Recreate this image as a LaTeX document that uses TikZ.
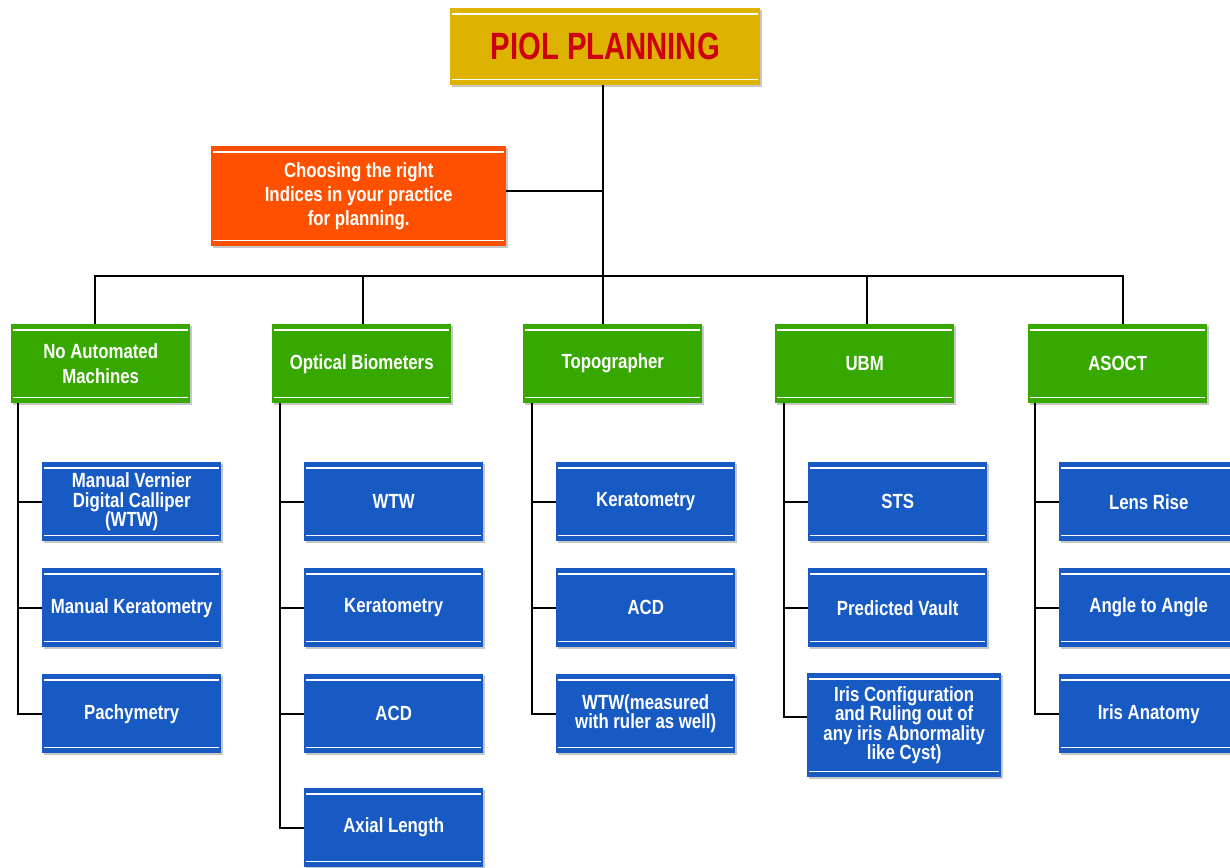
\documentclass[tikz,border=0pt]{standalone}
\usepackage{fontspec}
\newfontfamily\titlefont{Liberation Sans}[FakeStretch=0.77]
\newfontfamily\bodyfont{Liberation Sans}[FakeStretch=0.82]
\definecolor{gold}{RGB}{222,178,0}
\definecolor{titlered}{RGB}{204,0,16}
\definecolor{orangebox}{RGB}{255,80,0}
\definecolor{greenbox}{RGB}{55,168,0}
\definecolor{bluebox}{RGB}{24,90,196}
\tikzset{
  box/.style={rectangle, inner sep=0pt, anchor=north west, text=white, align=center,
    font=\bodyfont\bfseries\fontsize{20.5}{19.5}\selectfont},
  titlebox/.style={box, fill=gold, text=titlered, font=\titlefont\bfseries\fontsize{38}{38}\selectfont},
  orangestyle/.style={box, fill=orangebox, font=\bodyfont\bfseries\fontsize{20.5}{24}\selectfont},
  greenstyle/.style={box, fill=greenbox, font=\bodyfont\bfseries\fontsize{20.5}{25}\selectfont},
  bluestyle/.style={box, fill=bluebox},
  conn/.style={draw=black, line width=2.2pt},
  whiteline/.style={draw=white, line width=1.6pt},
  shadowfill/.style={fill=black!22}
}
\newcommand\mybox[7]{%
  \fill[shadowfill] (#2+2,#3+2) rectangle ++(#4,#5);
  \node[#6, minimum width=#4pt, minimum height=#5pt] (#1) at (#2,#3) {#7};
  \draw[whiteline] ([xshift=2pt,yshift=-6pt]#1.north west) -- ([xshift=-2pt,yshift=-6pt]#1.north east);
  \draw[whiteline] ([xshift=2pt,yshift=6pt]#1.south west) -- ([xshift=-2pt,yshift=6pt]#1.south east);
}
\begin{document}
\begin{tikzpicture}[x=1pt, y=-1pt]
\fill[white] (0,0) rectangle (1230,867);
\useasboundingbox (0,0) rectangle (1230,867);

\coordinate (bus) at (603,276);
\coordinate (busL) at (95,276);
\coordinate (busR) at (1123,276);

% Title and orange
\mybox{title}{450}{8}{310}{77}{titlebox}{PIOL PLANNING}
\mybox{note}{211}{146}{295}{100}{orangestyle}{Choosing the right\\Indices in your practice\\for planning.}

% Green boxes
\mybox{g1}{11}{324}{179}{79}{greenstyle}{No Automated\\Machines}
\mybox{g2}{272}{324}{179}{79}{greenstyle}{Optical Biometers}
\mybox{g3}{523}{324}{179}{79}{greenstyle}{Topographer}
\mybox{g4}{775}{324}{179}{79}{greenstyle}{UBM}
\mybox{g5}{1028}{324}{179}{79}{greenstyle}{ASOCT}

% Blue boxes column 1
\mybox{a1}{42}{462}{179}{79}{bluestyle}{Manual Vernier\\Digital Calliper\\(WTW)}
\mybox{a2}{42}{568}{179}{79}{bluestyle}{Manual Keratometry}
\mybox{a3}{42}{674}{179}{79}{bluestyle}{Pachymetry}
% column 2
\mybox{b1}{304}{462}{179}{79}{bluestyle}{WTW}
\mybox{b2}{304}{568}{179}{79}{bluestyle}{Keratometry}
\mybox{b3}{304}{674}{179}{79}{bluestyle}{ACD}
\mybox{b4}{304}{788}{179}{79}{bluestyle}{Axial Length}
% column 3
\mybox{c1}{556}{462}{179}{79}{bluestyle}{Keratometry}
\mybox{c2}{556}{568}{179}{79}{bluestyle}{ACD}
\mybox{c3}{556}{674}{179}{79}{bluestyle}{WTW(measured\\with ruler as well)}
% column 4
\mybox{d1}{808}{462}{179}{79}{bluestyle}{STS}
\mybox{d2}{808}{568}{179}{79}{bluestyle}{Predicted Vault}
\mybox{d3}{807}{673}{194}{104}{bluestyle}{Iris Configuration\\and Ruling out of\\any iris Abnormality\\like Cyst)}
% column 5
\mybox{e1}{1059}{462}{179}{79}{bluestyle}{Lens Rise}
\mybox{e2}{1059}{568}{179}{79}{bluestyle}{Angle to Angle}
\mybox{e3}{1059}{674}{179}{79}{bluestyle}{Iris Anatomy}

% trunk and bus
\draw[conn] (title.south -| bus) -- (bus);
\draw[conn] ([yshift=5pt]note.east) -- ([yshift=5pt]note.east -| bus);
\draw[conn, line cap=rect] (busL) -- (busR);
\draw[conn] (busL) -- (g1.north -| busL);
\draw[conn] (363,276) -- (g2.north -| 363,0);
\draw[conn] (bus) -- (g3.north -| bus);
\draw[conn] (867,276) -- (g4.north -| 867,0);
\draw[conn] (busR) -- (g5.north -| busR);

% spines and branches
\draw[conn] ([xshift=7pt]g1.south west) -- ([xshift=7pt]g1.south west |- a3.west) -- (a3.west);
\draw[conn] ([xshift=7pt]g1.south west |- a1.west) -- (a1.west);
\draw[conn] ([xshift=7pt]g1.south west |- a2.west) -- (a2.west);

\draw[conn] ([xshift=8pt]g2.south west) -- ([xshift=8pt]g2.south west |- b4.west) -- (b4.west);
\draw[conn] ([xshift=8pt]g2.south west |- b1.west) -- (b1.west);
\draw[conn] ([xshift=8pt]g2.south west |- b2.west) -- (b2.west);
\draw[conn] ([xshift=8pt]g2.south west |- b3.west) -- (b3.west);

\draw[conn] ([xshift=9pt]g3.south west) -- ([xshift=9pt]g3.south west |- c3.west) -- (c3.west);
\draw[conn] ([xshift=9pt]g3.south west |- c1.west) -- (c1.west);
\draw[conn] ([xshift=9pt]g3.south west |- c2.west) -- (c2.west);

\coordinate (irisbranch) at (784,717);
\draw[conn] ([xshift=9pt]g4.south west) -- (irisbranch) -- (d3.west |- irisbranch);
\draw[conn] ([xshift=9pt]g4.south west |- d1.west) -- (d1.west);
\draw[conn] ([xshift=9pt]g4.south west |- d2.west) -- (d2.west);

\draw[conn] ([xshift=7pt]g5.south west) -- ([xshift=7pt]g5.south west |- e3.west) -- (e3.west);
\draw[conn] ([xshift=7pt]g5.south west |- e1.west) -- (e1.west);
\draw[conn] ([xshift=7pt]g5.south west |- e2.west) -- (e2.west);
\end{tikzpicture}
\end{document}
